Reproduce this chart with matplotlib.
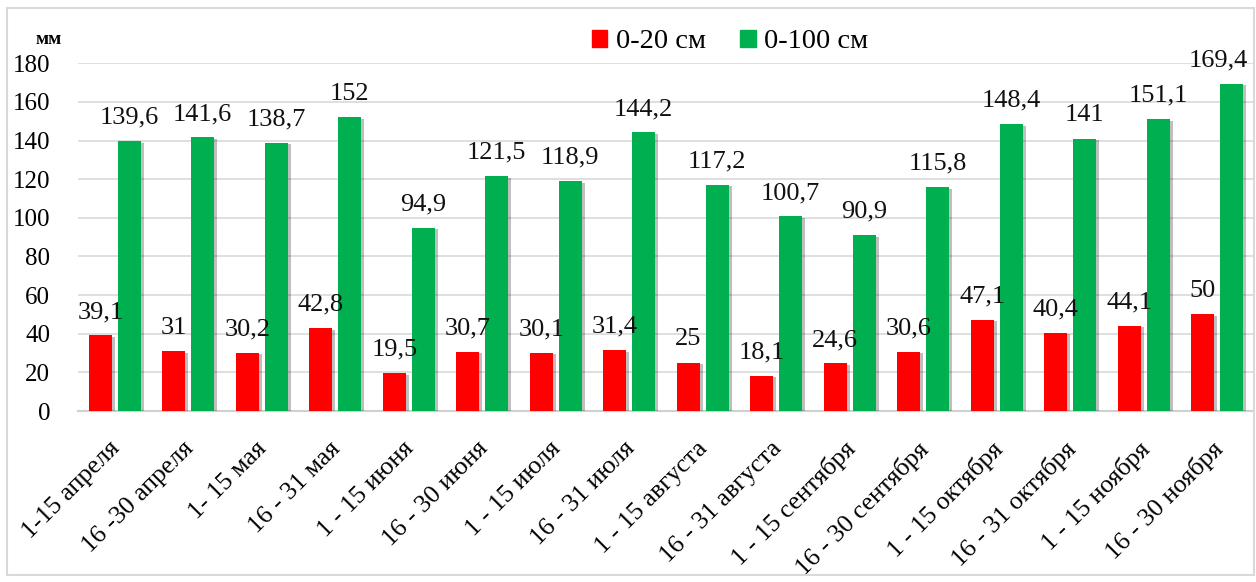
import numpy as np
import matplotlib
matplotlib.use("Agg")
import matplotlib.pyplot as plt
import matplotlib.patheffects as pe
import matplotlib.transforms as mtransforms
from matplotlib.patches import Patch, Rectangle

periods = ["1-15 апреля", "16 -30 апреля", "1- 15 мая", "16 - 31 мая",
           "1 - 15 июня", "16 - 30 июня", "1 - 15 июля", "16 - 31 июля",
           "1 - 15 августа", "16 - 31 августа", "1 - 15 сентября", "16 - 30 сентября",
           "1 - 15 октября", "16 - 31 октября", "1 - 15 ноября", "16 - 30 ноября"]
layer_20 = [39.1, 31, 30.2, 42.8, 19.5, 30.7, 30.1, 31.4,
            25, 18.1, 24.6, 30.6, 47.1, 40.4, 44.1, 50]
layer_100 = [139.6, 141.6, 138.7, 152, 94.9, 121.5, 118.9, 144.2,
             117.2, 100.7, 90.9, 115.8, 148.4, 141, 151.1, 169.4]
series_names = ["0-20 см", "0-100 см"]
y_ticks = [0, 20, 40, 60, 80, 100, 120, 140, 160, 180]

RED = "#ff0000"
GREEN = "#00b050"

plt.rcParams['font.family'] = ['Liberation Serif', 'DejaVu Serif']

fig = plt.figure(figsize=(12.56, 5.82), dpi=100)
ax = fig.add_axes([78 / 1256, 1 - 411 / 582, (1254 - 78) / 1256, (411 - 63.3) / 582])

# outer chart border
fig.patches.append(Rectangle((7 / 1256, 7 / 582), 1247 / 1256, 567 / 582,
                             transform=fig.transFigure, fill=False,
                             edgecolor="#d9d9d9", linewidth=1.5))

x = np.arange(len(periods))
w = 0.313
off = 0.197
shadow = [pe.SimplePatchShadow(offset=(2, -1), shadow_rgbFace="#000000", alpha=0.25), pe.Normal()]

b1 = ax.bar(x - off, layer_20, w, color=RED, zorder=3)
b2 = ax.bar(x + off, layer_100, w, color=GREEN, zorder=3)
for b in list(b1) + list(b2):
    b.set_path_effects(shadow)

def fmt(v):
    return ("%g" % v).replace(".", ",")

labels = []
for bars, vals in ((b1, layer_20), (b2, layer_100)):
    for b, v in zip(bars, vals):
        t = ax.annotate(fmt(v), (b.get_x() + b.get_width() / 2, v),
                        xytext=(0, 9), textcoords="offset points",
                        ha="center", va="bottom", fontsize=19, color="#111111",
                        annotation_clip=False)
        labels.append(t)

ax.set_xlim(-0.5, len(periods) - 0.5)
ax.set_ylim(0, 180)
ax.set_yticks(y_ticks)
ax.set_yticklabels([str(t) for t in y_ticks], fontsize=18)
ax.set_xticks(x)
ax.set_xticklabels(periods, fontsize=18.5, rotation=45, ha="right", va="top",
                   rotation_mode="anchor")
ax.tick_params(axis="x", length=0, pad=19)
ax.tick_params(axis="y", length=0, pad=20)
shift = mtransforms.ScaledTranslation(-6 / 100, 0, fig.dpi_scale_trans)
for lbl in ax.get_xticklabels():
    lbl.set_transform(lbl.get_transform() + shift)

ax.grid(axis="y", color="#d9d9d9", linewidth=1.2, zorder=0)
ax.set_axisbelow(True)
for s in ("top", "right", "left"):
    ax.spines[s].set_visible(False)
ax.spines["bottom"].set_color("#d0d0d0")
ax.spines["bottom"].set_linewidth(1.5)

fig.text(49 / 1256, 1 - 39 / 582, "мм", fontsize=14, fontweight="bold",
         ha="center", va="center")

handles = [Patch(color=RED), Patch(color=GREEN)]
fig.legend(handles, series_names, loc="center", ncol=2, frameon=False,
           bbox_to_anchor=(730 / 1256, 1 - 42 / 582), fontsize=20.5,
           handlelength=0.55, handleheight=0.55, handletextpad=0.3,
           columnspacing=1.2)

# keep value labels inside the chart frame, like Excel does
fig.canvas.draw()
r = fig.canvas.get_renderer()
for t in labels:
    bb = t.get_window_extent(r)
    if bb.x1 > 1248:
        dx = (bb.x1 - 1248) * 72 / fig.dpi
        t.xyann = (-dx, 9)

fig.savefig("out.png", dpi=100)
